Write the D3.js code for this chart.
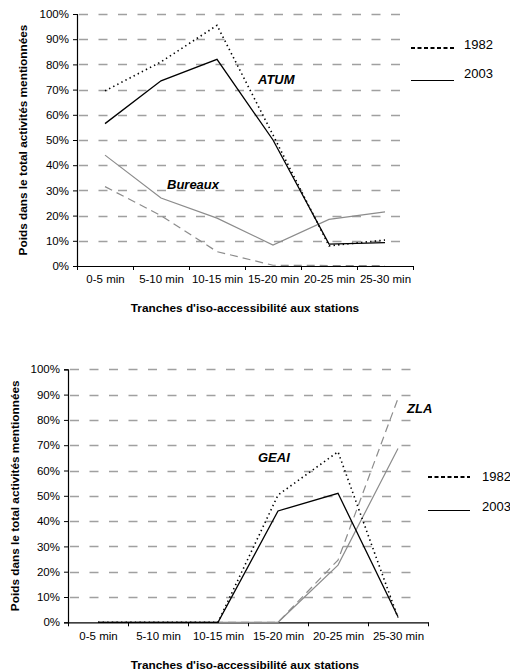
<!DOCTYPE html>
<html><head><meta charset="utf-8">
<script src="https://cdn.jsdelivr.net/npm/d3@7"></script>
<style>
body{margin:0;background:#fff;}
svg{display:block;font-family:"Liberation Sans",Arial,sans-serif;}
</style></head>
<body><svg id="c" width="510" height="672"></svg>
<script>
const categories = ["0-5 min","5-10 min","10-15 min","15-20 min","20-25 min","25-30 min"];
const yTicks = [0,10,20,30,40,50,60,70,80,90,100];
const legendYears = ["1982","2003"];
// Top chart
const atum1982 = [69.5, 81, 95.5, 52, 8, 10.3];
const atum2003 = [56.5, 73.5, 82, 50, 8.7, 9.3];
const bureaux1982 = [31.5, 20, 5.7, 0.3, 0.2, 0.2];
const bureaux2003 = [44, 27, 19, 8.3, 18.5, 21.5];
// Bottom chart
const geai1982 = [0, 0, 0, 50.3, 67.4, 1.8];
const geai2003 = [0, 0, 0, 44, 51, 2.2];
const zla1982 = [0, 0, 0, 0, 24.6, 88.5];
const zla2003 = [0, 0, 0, 0, 22.6, 68.7];

const svg = d3.select("#c");
const yTitle = "Poids dans le total activités mentionnées";
const xTitle = "Tranches d'iso-accessibilité aux stations";

function drawChart(cfg){
  const g = svg.append("g");
  const x = d3.scaleLinear().domain([0, categories.length]).range([cfg.x0, cfg.x1]);
  const xc = i => x(i + 0.5);
  const y = d3.scaleLinear().domain([0,100]).range([cfg.y0, cfg.y1]);

  // gridlines
  g.append("g").selectAll("line").data(yTicks.filter(d=>d>0)).join("line")
    .attr("x1", cfg.x0 + 2).attr("x2", cfg.gx1)
    .attr("y1", d=>Math.round(y(d))+0.5).attr("y2", d=>Math.round(y(d))+0.5)
    .attr("stroke","#a0a0a0").attr("stroke-width",1.3)
    .attr("stroke-dasharray","9,10.5");

  // y axis
  const ya = g.append("g").attr("transform",`translate(${cfg.x0},0)`)
    .call(d3.axisLeft(y).tickValues(yTicks).tickFormat(d=>d+"%").tickSize(4).tickPadding(4));
  ya.select(".domain").attr("stroke","#000").attr("stroke-width",1.2);
  ya.selectAll(".tick line").attr("stroke","#000");
  ya.selectAll("text").attr("font-size",11.5).attr("font-family","Liberation Sans, Arial").attr("fill","#000");

  // x axis boundary ticks
  const xa = g.append("g").attr("transform",`translate(0,${cfg.y0})`)
    .call(d3.axisBottom(x).tickValues(d3.range(categories.length+1)).tickFormat("").tickSizeInner(4).tickSizeOuter(0));
  xa.select(".domain").attr("stroke","#000").attr("stroke-width",1.2);
  xa.selectAll(".tick line").attr("stroke","#000");
  // x labels at centres
  const xb = g.append("g").attr("transform",`translate(0,${cfg.y0})`)
    .call(d3.axisBottom(x).tickValues(d3.range(categories.length).map(i=>i+0.5))
      .tickFormat(d=>categories[Math.floor(d)]).tickSize(0).tickPadding(cfg.xlabPad));
  xb.select(".domain").remove();
  xb.selectAll("text").attr("font-size",11.5).attr("font-family","Liberation Sans, Arial").attr("fill","#000");

  // lines
  const line = d3.line().x((d,i)=>xc(i)).y(d=>y(d));
  cfg.series.forEach(s=>{
    g.append("path").datum(s.values).attr("d", line)
      .attr("fill","none").attr("stroke", s.color).attr("stroke-width", s.width)
      .attr("stroke-dasharray", s.dash || null).attr("stroke-linecap", s.cap || "butt");
  });

  // annotations
  cfg.labels.forEach(l=>{
    g.append("text").attr("x",l.x).attr("y",l.y).text(l.text)
      .attr("font-size",13).attr("font-weight","bold").attr("font-style","italic");
  });

  // legend
  legendYears.forEach((yr,i)=>{
    const ly = cfg.legY[i];
    g.append("line").attr("x1",cfg.legX0).attr("x2",cfg.legX1).attr("y1",ly).attr("y2",ly)
      .attr("stroke","#000").attr("stroke-width", i===0?2.2:1.1)
      .attr("stroke-dasharray", i===0?"4,2.5":null);
    g.append("text").attr("x",cfg.legTX).attr("y",ly + cfg.legTdy[i]).text(yr).attr("font-size",13);
  });

  // titles
  g.append("text").attr("transform",`translate(${cfg.ytX},${(cfg.y0+cfg.y1)/2}) rotate(-90)`)
    .attr("text-anchor","middle").attr("font-size",11.8).attr("font-weight","bold").text(yTitle);
  g.append("text").attr("x",245).attr("y",cfg.xtY).attr("text-anchor","middle")
    .attr("font-size",11.8).attr("font-weight","bold").text(xTitle);
}

const dotted = {color:"#000", width:1.6, dash:"1.4,3.2"};
const solid = {color:"#000", width:1.3};
const gdash = {color:"#8c8c8c", width:1.2, dash:"8,5"};
const gsolid = {color:"#8c8c8c", width:1.2};

drawChart({
  x0:77, x1:413, gx1:410, y0:266, y1:14, xlabPad:9,
  series:[
    Object.assign({values:bureaux1982}, gdash),
    Object.assign({values:bureaux2003}, gsolid),
    Object.assign({values:atum1982}, dotted),
    Object.assign({values:atum2003}, solid)
  ],
  labels:[{text:"ATUM", x:258, y:84},{text:"Bureaux", x:167, y:189}],
  legX0:411, legX1:454, legY:[48,80.5], legTX:464, legTdy:[1,-2.5],
  ytX:27, xtY:312
});

drawChart({
  x0:68, x1:428, gx1:421, y0:622.3, y1:369.3, xlabPad:10,
  series:[
    Object.assign({values:zla1982}, gdash),
    Object.assign({values:zla2003}, gsolid),
    Object.assign({values:geai1982}, dotted),
    Object.assign({values:geai2003}, solid)
  ],
  labels:[{text:"GEAI", x:258, y:462},{text:"ZLA", x:407, y:413}],
  legX0:428, legX1:470, legY:[477,510.5], legTX:482, legTdy:[4,0.5],
  ytX:19, xtY:669
});
</script></body></html>
